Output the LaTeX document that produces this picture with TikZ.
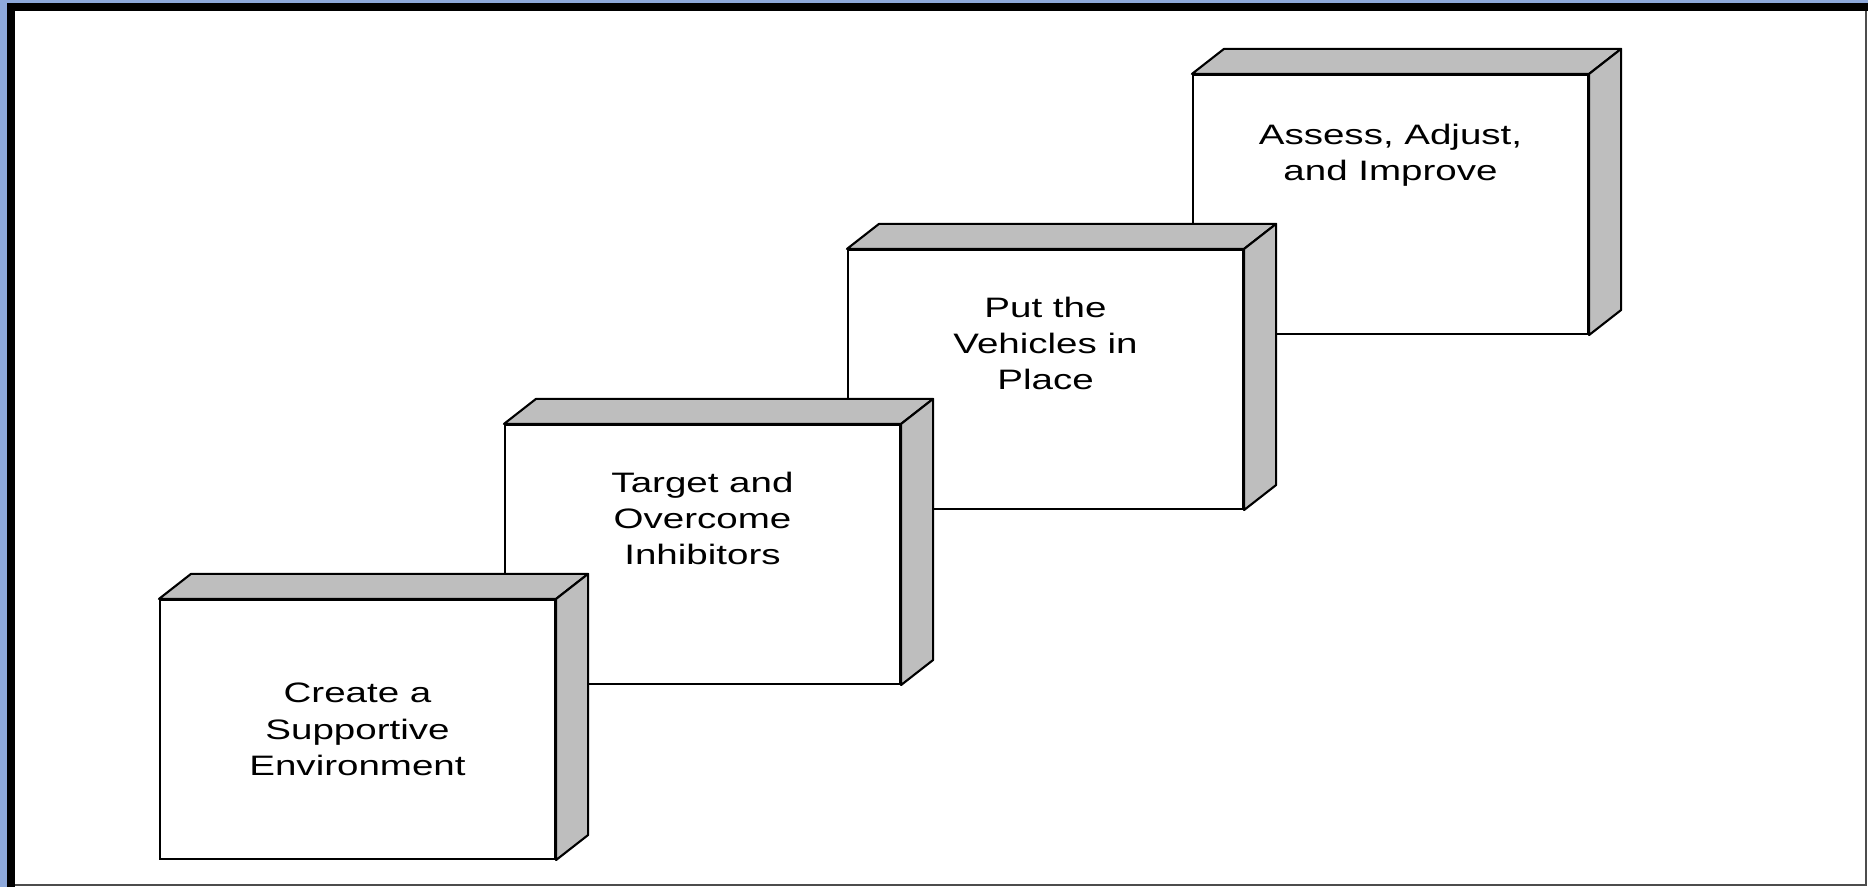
\documentclass[tikz,border=0pt]{standalone}
\usepackage{fontspec}
\newfontfamily\stepfont{Liberation Sans}[FakeStretch=1.37]
\usepackage{tikz}
\usetikzlibrary{positioning}
\definecolor{framblue}{HTML}{8EA9DB}
\definecolor{sidegray}{HTML}{BEBEBE}

\begin{document}
\begin{tikzpicture}[
  face/.style={draw, line width=0.6pt, fill=white, minimum width=3.95cm,
               minimum height=2.59cm, inner sep=0pt, align=center,
               font=\stepfont\fontsize{8}{10.3}\selectfont},
  lbl/.style={inner sep=0pt, align=center,
              font=\stepfont\fontsize{8}{10.3}\selectfont},
  side/.style={draw, line width=0.6pt, fill=sidegray, line join=round},
  ]
  \useasboundingbox (0,0) rectangle (18.68,8.87);
  % frame
  \fill[white] (0,0) rectangle (18.68,8.87);
  \fill[framblue] (0,0) rectangle (0.07,8.87);
  \fill[framblue] (0,8.84) rectangle (18.68,8.87);
  \fill[black] (0.07,0) rectangle (0.15,8.84);
  \fill[black] (0.07,8.76) rectangle (18.68,8.84);
  \draw[black!70, line width=0.6pt] (18.66,8.76) -- (18.66,0.02) -- (0.15,0.02);

  % steps, back to front
  \foreach \nm/\cx/\cy in {b4/13.905/6.825, b3/10.455/5.075, b2/7.025/3.325, b1/3.575/1.575} {
    \node[face] (\nm) at (\cx,\cy) {};
    \draw[side] (\nm.north west) -- ++(0.32,0.25) -- ([shift={(0.32,0.25)}]\nm.north east)
          -- (\nm.north east) -- cycle;
    \draw[side] (\nm.north east) -- ++(0.32,0.25) -- ([shift={(0.32,0.25)}]\nm.south east)
          -- (\nm.south east) -- cycle;
  }

  \node[lbl] (t1) at (b1.center) {Create a\\Supportive\\Environment};
  \node[lbl, below=0.47cm of b2.north] (t2) {Target and\\Overcome\\Inhibitors};
  \node[lbl, below=0.47cm of b3.north] (t3) {Put the\\Vehicles in\\Place};
  \node[lbl, below=0.49cm of b4.north] (t4) {Assess, Adjust,\\and Improve};
\end{tikzpicture}
\end{document}
